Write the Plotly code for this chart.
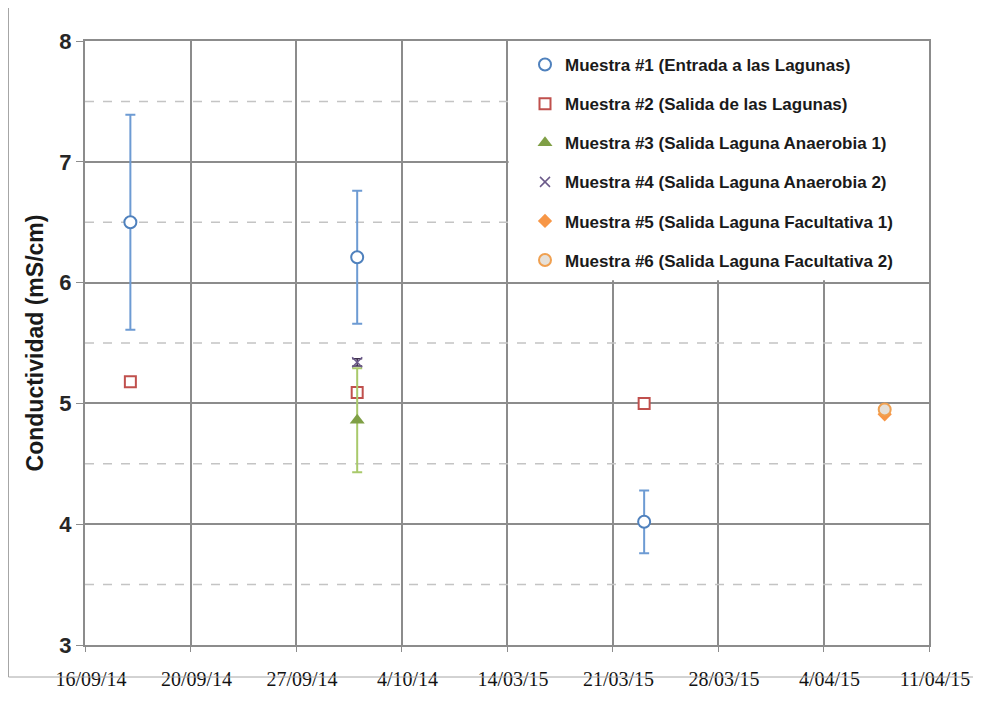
import plotly.graph_objects as go

# ---- data ----
tick_labels = ["16/09/14", "20/09/14", "27/09/14", "4/10/14", "14/03/15",
               "21/03/15", "28/03/15", "4/04/15", "11/04/15"]
# sample positions on the category scale (fraction between ticks)
m1_x = [0.43, 2.58, 5.30]
m1_y = [6.50, 6.21, 4.02]
m1_err = [0.89, 0.55, 0.26]

m2_x = [0.43, 2.58, 5.30]
m2_y = [5.18, 5.09, 5.00]

m3_x = [2.58]
m3_y = [4.86]
m3_err = [0.43]

m4_x = [2.58]
m4_y = [5.34]
m4_err = [0.03]

m5_x = [7.58]
m5_y = [4.91]

m6_x = [7.58]
m6_y = [4.95]

names = ["Muestra #1 (Entrada a las Lagunas)",
         "Muestra #2 (Salida de las Lagunas)",
         "Muestra #3 (Salida Laguna Anaerobia 1)",
         "Muestra #4 (Salida Laguna Anaerobia 2)",
         "Muestra #5 (Salida Laguna Facultativa 1)",
         "Muestra #6 (Salida Laguna Facultativa 2)"]

# figure geometry (page has an 8px body margin)
L, R, T, B = 77, 60, 33, 76
W, H = 981, 713
pw, ph = W - L - R, H - T - B

fig = go.Figure()

fig.add_trace(go.Scatter(
    x=m1_x, y=m1_y, mode="markers", name=names[0], legendgroup="1",
    marker=dict(symbol="circle", size=12, color="white",
                line=dict(color="#4f81bd", width=2)),
    error_y=dict(type="data", array=m1_err, color="#6d9bd3", thickness=2, width=5)))
fig.add_trace(go.Scatter(
    x=m2_x, y=m2_y, mode="markers", name=names[1], legendgroup="2",
    marker=dict(symbol="square", size=11, color="white",
                line=dict(color="#c0504d", width=2))))
fig.add_trace(go.Scatter(
    x=m3_x, y=m3_y, mode="markers", name=names[2], legendgroup="3",
    marker=dict(symbol="triangle-up", size=13, color="#7f9f45"),
    error_y=dict(type="data", array=m3_err, color="#a9c96b", thickness=2, width=5)))
fig.add_trace(go.Scatter(
    x=m4_x, y=m4_y, mode="markers", name=names[3], legendgroup="4",
    marker=dict(symbol="x-thin", size=10, color="#8064a2",
                line=dict(color="#6b5a8a", width=1.5)),
    error_y=dict(type="data", array=m4_err, color="#403050", thickness=1.5, width=5)))
fig.add_trace(go.Scatter(
    x=m5_x, y=m5_y, mode="markers", name=names[4], legendgroup="5",
    marker=dict(symbol="diamond", size=11, color="#f79646")))
fig.add_trace(go.Scatter(
    x=m6_x, y=m6_y, mode="markers", name=names[5], legendgroup="6",
    marker=dict(symbol="circle", size=12, color="#e6e0d8",
                line=dict(color="#f0a050", width=2))))

# minor dashed gridlines
minor_vals = [3.5, 4.5, 5.5, 6.5, 7.5]
for v in minor_vals:
    fig.add_shape(type="line", xref="x", yref="y", x0=0, x1=8, y0=v, y1=v,
                  line=dict(color="#c4c4c4", width=1.5, dash="dash"), layer="between")

# white legend panel (covers gridlines)
fig.add_shape(type="rect", xref="x", yref="y", x0=4.015, x1=8, y0=6.02, y1=8,
              fillcolor="white", line=dict(width=0), layer="between")

# outer frame
fig.add_shape(type="rect", xref="paper", yref="paper",
              x0=(0.5 - L) / pw, x1=(971 - L) / pw,
              y0=(H - T - 712) / ph, y1=(H - T - 0.5) / ph,
              line=dict(color="#a6a6a6", width=1), fillcolor="rgba(0,0,0,0)")

axis_col = "#8c8c8c"
fig.update_layout(
    width=W, height=H,
    margin=dict(l=L, r=R, t=T, b=B),
    paper_bgcolor="white", plot_bgcolor="white",
    showlegend=True,
    legend=dict(x=(517 - L) / pw, y=1 - (6 / ph), xanchor="left", yanchor="top",
                bgcolor="rgba(0,0,0,0)", traceorder="grouped", tracegroupgap=14,
                itemwidth=30,
                font=dict(family="Liberation Sans, Arial", size=17, color="#1a1a1a",
                          weight="bold")),
    xaxis=dict(range=[0, 8], tickmode="array", tickvals=list(range(len(tick_labels))),
               ticktext=tick_labels, showgrid=True, gridcolor=axis_col, gridwidth=2,
               zeroline=False, showline=True, linecolor=axis_col, linewidth=2,
               mirror=True,
               ticks="outside", ticklen=5, tickcolor=axis_col,
               ticklabelshift=6, ticklabelstandoff=10,
               tickfont=dict(family="Liberation Serif, Times New Roman", size=20,
                             color="#111111")),
    yaxis=dict(range=[3, 8], tickmode="array", tickvals=[3, 4, 5, 6, 7, 8],
               showgrid=True, gridcolor=axis_col, gridwidth=2, zeroline=False,
               showline=True, linecolor=axis_col, linewidth=2, mirror=True,
               ticks="outside", ticklen=7, tickcolor=axis_col,
               tickfont=dict(family="Liberation Sans, Arial", size=22, color="#262626",
                             weight="bold"),
               title=dict(text="Conductividad (mS/cm)", standoff=9,
                          font=dict(family="Liberation Sans, Arial", size=23,
                                    color="#1a1a1a", weight="bold"))),
)

fig.write_html("out.html")
